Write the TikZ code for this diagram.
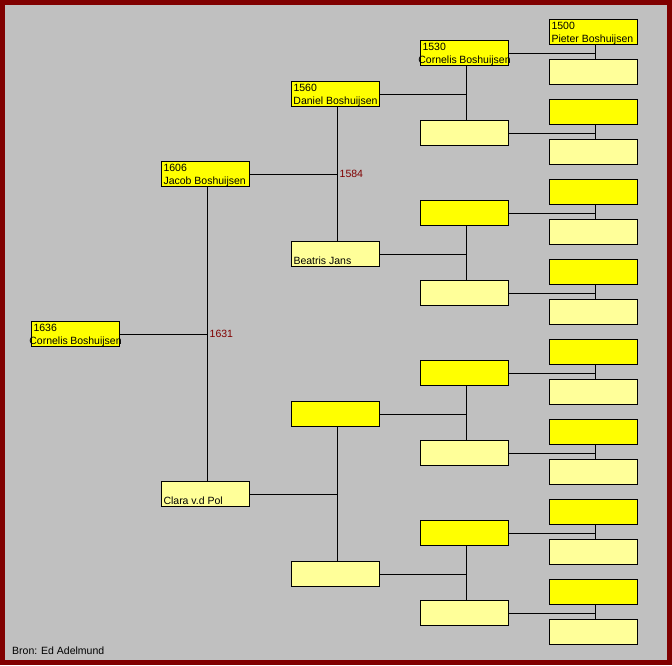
\documentclass[tikz,border=0pt]{standalone}
\usepackage{fontspec}
\setmainfont{Liberation Sans}
\usepackage{xcolor}
\usepackage{tikz}

\definecolor{framered}{RGB}{128,0,0}
\definecolor{panelgray}{RGB}{192,192,192}
\definecolor{manfill}{RGB}{255,255,0}
\definecolor{womanfill}{RGB}{255,255,153}

% one line of a box: left aligned, an overlong line spills out on both sides
\newcommand\boxline[1]{\hbox to 84pt{\vrule height 10pt depth 2pt width 0pt\hskip 0pt minus 8pt #1\hfil\hskip 0pt minus 8pt}}
\newcommand\boxtext[2]{\boxline{#1}\\\boxline{#2}}

\tikzset{
	person/.style={draw=black, line width=1pt, anchor=north west, minimum width=88pt, minimum height=25pt, inner xsep=2pt, inner ysep=0pt, align=left, font=\fontsize{10.5}{12.7}\selectfont},
	man/.style={person, fill=manfill},
	woman/.style={person, fill=womanfill},
	year/.style={anchor=west, text=framered, inner sep=2pt, font=\fontsize{10.5}{12.7}\selectfont},
	link/.style={draw=black, line width=1pt}
}

\begin{document}
\begin{tikzpicture}[x=1pt,y=-1pt]
			\fill[framered] (0,0) rectangle (672,665);
			\fill[panelgray] (5,5) rectangle (667,660);
			\node[man]   (p1) at (31,321) {\boxtext{1636}{Cornelis Boshuijsen}};
			\node[man]   (p2) at (161,161) {\boxtext{1606}{Jacob Boshuijsen}};
			\node[woman] (p3) at (161,481) {\boxtext{}{Clara v.d Pol}};
			\node[man]   (p4) at (291,81) {\boxtext{1560}{Daniel Boshuijsen}};
			\node[woman] (p5) at (291,241) {\boxtext{}{Beatris Jans}};
			\node[man]   (p6) at (291,401) {};
			\node[woman] (p7) at (291,561) {};
			\node[man]   (p8) at (420,40) {\boxtext{1530}{Cornelis Boshuijsen}};
			\foreach \n in {10,12,14} \node[man] (p\n) at (420,{40+80*(\n-8)}) {};
			\foreach \n in {9,11,13,15} \node[woman] (p\n) at (420,{40+80*(\n-8)}) {};
			\node[man]   (p16) at (549,19) {\boxtext{1500}{Pieter Boshuijsen}};
			\foreach \n in {18,20,...,30} \node[man] (p\n) at (549,{19+40*(\n-16)}) {};
			\foreach \n in {17,19,...,31} \node[woman] (p\n) at (549,{19+40*(\n-16)}) {};
			% parents of p n are p 2n and p 2n+1
			\foreach \n [evaluate=\n as \f using int(2*\n), evaluate=\n as \m using int(2*\n+1)] in {1,...,15} {
				\coordinate[xshift=2pt] (j\n) at (p\f.south |- p\n.east);
				\draw[link] (p\f.south -| j\n) -- (p\m.north -| j\n);
				\draw[link] (p\n.east) -- (j\n);
			}
			\node[year] (y1631) at (j1) {1631};
			\node[year] (y1584) at (j2) {1584};
			\node[anchor=west, inner sep=0pt, font=\fontsize{10.5}{12.7}\selectfont] (bron) at (12,651) {Bron: Ed Adelmund};
		\end{tikzpicture}
\end{document}
